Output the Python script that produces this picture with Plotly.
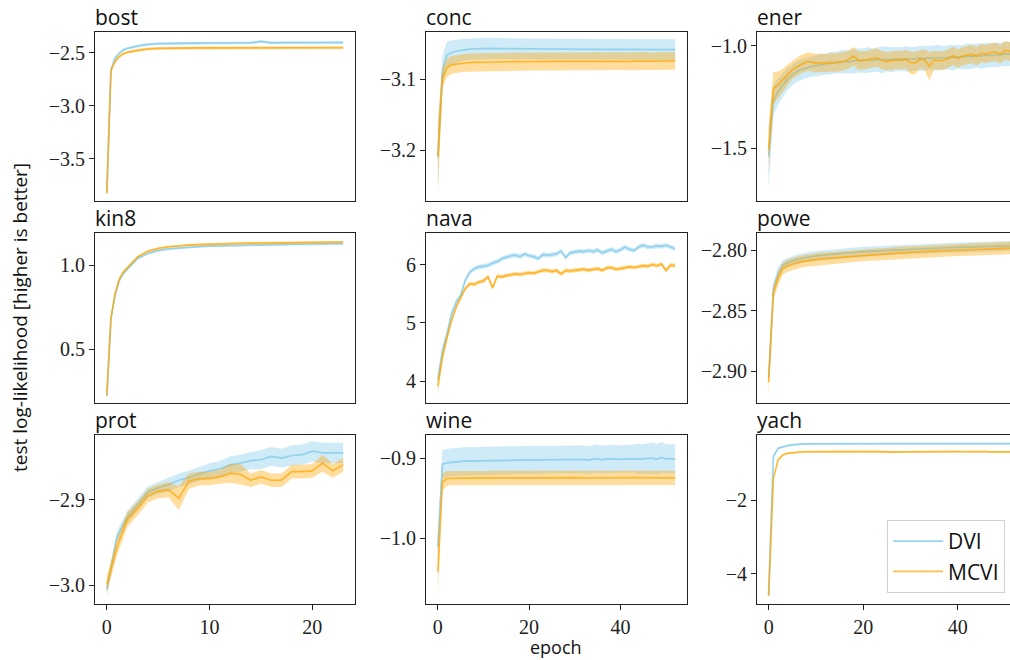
import plotly.graph_objects as go
from plotly.subplots import make_subplots

# ---------------- data ----------------
x_fine = [0, 0.4, 0.8, 1.2, 1.6, 2, 3, 4, 5, 6, 7, 8, 9, 10, 11, 12, 13, 14, 15, 16, 17, 18, 19, 20, 21, 22, 23]
x_prot = list(range(24))
x_long = list(range(53))

bost_dvi = [-3.82, -2.663, -2.553, -2.506, -2.475, -2.46, -2.437, -2.421, -2.415, -2.412, -2.411, -2.410, -2.410,
            -2.409, -2.409, -2.408, -2.408, -2.407, -2.394, -2.407, -2.406, -2.406, -2.406, -2.405, -2.405, -2.405, -2.405]
bost_dvi_sd = [0.02, 0.015, 0.013, 0.012, 0.012, 0.012, 0.012, 0.012, 0.012, 0.012, 0.012, 0.012, 0.012,
               0.012, 0.012, 0.012, 0.012, 0.012, 0.013, 0.012, 0.012, 0.012, 0.012, 0.012, 0.012, 0.012, 0.012]
bost_mcvi = [-3.83, -2.668, -2.585, -2.538, -2.51, -2.497, -2.478, -2.465, -2.46, -2.457, -2.456, -2.456, -2.455,
             -2.455, -2.455, -2.454, -2.455, -2.454, -2.454, -2.455, -2.454, -2.454, -2.453, -2.454, -2.453, -2.453, -2.453]
bost_mcvi_sd = [0.02, 0.015, 0.013, 0.012, 0.012, 0.012, 0.012, 0.012, 0.012, 0.012, 0.012, 0.012, 0.012,
                0.012, 0.012, 0.012, 0.012, 0.012, 0.012, 0.012, 0.012, 0.012, 0.012, 0.012, 0.012, 0.012, 0.012]

conc_dvi = [-3.2085, -3.089, -3.066, -3.0627, -3.061, -3.0598, -3.0588, -3.0580, -3.0575, -3.0572,
            -3.0570, -3.0570, -3.0571, -3.0572, -3.0573, -3.0574, -3.0575, -3.0576, -3.0577, -3.0577,
            -3.0578, -3.0578, -3.0579, -3.0579, -3.0580, -3.0580, -3.0580, -3.0581, -3.0581, -3.0581,
            -3.0582, -3.0582, -3.0582, -3.0582, -3.0583, -3.0583, -3.0583, -3.0583, -3.0584, -3.0584,
            -3.0584, -3.0584, -3.0584, -3.0585, -3.0585, -3.0585, -3.0585, -3.0585, -3.0585, -3.0586,
            -3.0586, -3.0586, -3.0586]
conc_dvi_sd = [0.045, 0.022, 0.019, 0.017, 0.016, 0.0155, 0.015, 0.015, 0.015, 0.015,
               0.0148, 0.0148, 0.0147, 0.0147, 0.0146, 0.0146, 0.0146, 0.0145, 0.0145, 0.0145,
               0.0145, 0.0145, 0.0145, 0.0145, 0.0145, 0.0145, 0.0145, 0.0145, 0.0145, 0.0145,
               0.0145, 0.0145, 0.0145, 0.0145, 0.0145, 0.0145, 0.0145, 0.0145, 0.0145, 0.0145,
               0.0145, 0.0145, 0.0145, 0.0145, 0.0145, 0.0145, 0.0145, 0.0145, 0.0145, 0.0145,
               0.0145, 0.0145, 0.0145]
conc_mcvi = [-3.2085, -3.0986, -3.0846, -3.0800, -3.0790, -3.0780, -3.0772, -3.0768, -3.0765, -3.0766,
             -3.0762, -3.0764, -3.0760, -3.0761, -3.0758, -3.0760, -3.0757, -3.0759, -3.0756, -3.0757,
             -3.0755, -3.0754, -3.0756, -3.0753, -3.0752, -3.0754, -3.0752, -3.0751, -3.0753, -3.0750,
             -3.0752, -3.0751, -3.0753, -3.0750, -3.0751, -3.0749, -3.0752, -3.0750, -3.0748, -3.0751,
             -3.0749, -3.0750, -3.0752, -3.0748, -3.0750, -3.0747, -3.0749, -3.0755, -3.0749, -3.0747,
             -3.0746, -3.0748, -3.0746]
conc_mcvi_sd = [0.05, 0.014, 0.013, 0.0125, 0.0125, 0.0125, 0.0125, 0.0125, 0.0125, 0.0125,
                0.0125, 0.0125, 0.0125, 0.0125, 0.0125, 0.0125, 0.0125, 0.0125, 0.0125, 0.0125,
                0.0125, 0.0125, 0.0125, 0.0125, 0.0125, 0.0125, 0.0125, 0.0125, 0.0125, 0.0125,
                0.0125, 0.0125, 0.0125, 0.0125, 0.0125, 0.0125, 0.0125, 0.0125, 0.0125, 0.0125,
                0.0125, 0.0125, 0.0125, 0.0125, 0.0125, 0.0125, 0.0125, 0.0125, 0.0125, 0.0125,
                0.0125, 0.0125, 0.0125]

ener_dvi = [-1.541, -1.264, -1.223, -1.190, -1.161, -1.142, -1.125, -1.114, -1.106, -1.101,
            -1.096, -1.092, -1.090, -1.085, -1.082, -1.080, -1.076, -1.078, -1.074, -1.070,
            -1.072, -1.068, -1.070, -1.066, -1.068, -1.065, -1.067, -1.064, -1.066, -1.062,
            -1.065, -1.063, -1.060, -1.062, -1.058, -1.060, -1.057, -1.060, -1.055, -1.057,
            -1.053, -1.055, -1.050, -1.052, -1.047, -1.049, -1.045, -1.046, -1.042, -1.044,
            -1.038, -1.040, -1.037]
ener_dvi_sd = [0.16, 0.075, 0.065, 0.06, 0.055, 0.05, 0.05, 0.05, 0.05, 0.05,
               0.05, 0.052, 0.05, 0.055, 0.052, 0.055, 0.058, 0.055, 0.06, 0.058,
               0.06, 0.062, 0.058, 0.06, 0.065, 0.06, 0.062, 0.058, 0.06, 0.062,
               0.06, 0.058, 0.062, 0.06, 0.058, 0.06, 0.062, 0.058, 0.06, 0.062,
               0.058, 0.06, 0.062, 0.06, 0.058, 0.062, 0.06, 0.058, 0.06, 0.058,
               0.06, 0.058, 0.06]
ener_mcvi = [-1.505, -1.207, -1.190, -1.166, -1.142, -1.117, -1.101, -1.088, -1.078, -1.078,
             -1.085, -1.082, -1.084, -1.080, -1.082, -1.078, -1.075, -1.065, -1.050, -1.072,
             -1.070, -1.068, -1.060, -1.058, -1.070, -1.075, -1.072, -1.068, -1.070, -1.065,
             -1.082, -1.083, -1.065, -1.068, -1.100, -1.068, -1.072, -1.070, -1.062, -1.048,
             -1.062, -1.050, -1.045, -1.040, -1.050, -1.035, -1.040, -1.032, -1.030, -1.040,
             -1.022, -1.028, -1.030]
ener_mcvi_sd = [0.11, 0.08, 0.065, 0.055, 0.05, 0.045, 0.045, 0.045, 0.045, 0.045,
                0.045, 0.045, 0.045, 0.045, 0.045, 0.045, 0.045, 0.045, 0.045, 0.045,
                0.045, 0.045, 0.045, 0.045, 0.045, 0.045, 0.045, 0.045, 0.045, 0.045,
                0.055, 0.055, 0.045, 0.05, 0.07, 0.045, 0.045, 0.045, 0.045, 0.045,
                0.045, 0.045, 0.045, 0.045, 0.045, 0.045, 0.045, 0.045, 0.045, 0.045,
                0.045, 0.045, 0.045]

kin8_dvi = [0.22, 0.68, 0.82, 0.905, 0.95, 0.975, 1.04, 1.07, 1.087, 1.097, 1.103, 1.108, 1.111,
            1.114, 1.116, 1.118, 1.12, 1.121, 1.122, 1.123, 1.124, 1.125, 1.126, 1.126, 1.127, 1.127, 1.128]
kin8_dvi_sd = [0.01, 0.008, 0.007, 0.006, 0.006, 0.006, 0.006, 0.006, 0.006, 0.006, 0.006, 0.006, 0.006,
               0.006, 0.006, 0.006, 0.006, 0.006, 0.006, 0.006, 0.006, 0.006, 0.006, 0.006, 0.006, 0.006, 0.006]
kin8_mcvi = [0.225, 0.685, 0.83, 0.915, 0.96, 0.985, 1.05, 1.083, 1.1, 1.11, 1.116, 1.12, 1.123,
             1.126, 1.128, 1.13, 1.131, 1.132, 1.133, 1.134, 1.135, 1.135, 1.136, 1.136, 1.137, 1.137, 1.138]
kin8_mcvi_sd = [0.01, 0.008, 0.007, 0.006, 0.006, 0.006, 0.006, 0.006, 0.006, 0.006, 0.006, 0.006, 0.006,
                0.006, 0.006, 0.006, 0.006, 0.006, 0.006, 0.006, 0.006, 0.006, 0.006, 0.006, 0.006, 0.006, 0.006]

nava_dvi = [4.03, 4.52, 4.81, 5.155, 5.355, 5.47, 5.73, 5.87, 5.93, 5.96,
            5.97, 5.985, 6.025, 6.05, 6.10, 6.13, 6.15, 6.16, 6.135, 6.18,
            6.15, 6.135, 6.10, 6.17, 6.16, 6.17, 6.18, 6.23, 6.12, 6.20,
            6.22, 6.23, 6.22, 6.24, 6.22, 6.25, 6.20, 6.23, 6.26, 6.22,
            6.25, 6.30, 6.26, 6.24, 6.30, 6.33, 6.30, 6.30, 6.32, 6.31,
            6.33, 6.30, 6.27]
nava_dvi_sd = [0.1, 0.08, 0.06, 0.05, 0.045, 0.04, 0.04, 0.04, 0.04, 0.04,
               0.04, 0.04, 0.04, 0.04, 0.04, 0.04, 0.04, 0.04, 0.04, 0.04,
               0.04, 0.04, 0.04, 0.04, 0.04, 0.04, 0.04, 0.04, 0.04, 0.04,
               0.04, 0.04, 0.04, 0.04, 0.04, 0.04, 0.04, 0.04, 0.04, 0.04,
               0.04, 0.04, 0.04, 0.04, 0.04, 0.04, 0.04, 0.04, 0.04, 0.04,
               0.04, 0.04, 0.04]
nava_mcvi = [3.92, 4.41, 4.75, 5.04, 5.27, 5.44, 5.59, 5.67, 5.66, 5.70,
             5.72, 5.79, 5.60, 5.80, 5.79, 5.81, 5.83, 5.84, 5.83, 5.85,
             5.86, 5.85, 5.88, 5.90, 5.90, 5.88, 5.90, 5.84, 5.90, 5.89,
             5.90, 5.91, 5.92, 5.90, 5.92, 5.93, 5.90, 5.94, 5.95, 5.92,
             5.93, 5.95, 5.96, 5.95, 5.97, 5.98, 5.97, 6.00, 5.98, 6.01,
             5.90, 5.99, 5.98]
nava_mcvi_sd = [0.12, 0.07, 0.05, 0.04, 0.035, 0.035, 0.035, 0.035, 0.035, 0.035,
                0.035, 0.035, 0.035, 0.035, 0.035, 0.035, 0.035, 0.035, 0.035, 0.035,
                0.035, 0.035, 0.035, 0.035, 0.035, 0.035, 0.035, 0.035, 0.035, 0.035,
                0.035, 0.035, 0.035, 0.035, 0.035, 0.035, 0.035, 0.035, 0.035, 0.035,
                0.035, 0.035, 0.035, 0.035, 0.035, 0.035, 0.035, 0.035, 0.035, 0.035,
                0.035, 0.035, 0.035]

powe_dvi = [-2.905, -2.8318, -2.8188, -2.8124, -2.8105, -2.8088, -2.8077, -2.8068, -2.806, -2.8054,
            -2.8049, -2.8045, -2.8041, -2.8038, -2.8035, -2.8033, -2.8029, -2.8025, -2.8021, -2.8017,
            -2.8014, -2.8012, -2.801, -2.8008, -2.8006, -2.8004, -2.8002, -2.8, -2.7998, -2.7996,
            -2.7994, -2.7993, -2.7991, -2.799, -2.7988, -2.7987, -2.7985, -2.7984, -2.7982, -2.798,
            -2.7978, -2.7977, -2.7976, -2.7975, -2.7974, -2.7973, -2.7972, -2.7971, -2.797, -2.7968,
            -2.7967, -2.7966, -2.7965]
powe_dvi_sd = [0.006, 0.005, 0.0045, 0.004, 0.004, 0.004, 0.004, 0.004, 0.004, 0.004,
               0.004, 0.004, 0.004, 0.004, 0.004, 0.004, 0.004, 0.004, 0.004, 0.004,
               0.004, 0.004, 0.004, 0.004, 0.004, 0.004, 0.004, 0.004, 0.004, 0.004,
               0.004, 0.004, 0.004, 0.004, 0.004, 0.004, 0.004, 0.004, 0.004, 0.004,
               0.004, 0.004, 0.004, 0.004, 0.004, 0.004, 0.004, 0.004, 0.004, 0.004,
               0.004, 0.004, 0.004]
powe_mcvi = [-2.909, -2.8354, -2.8235, -2.8152, -2.813, -2.8116, -2.8105, -2.8096, -2.8088, -2.8082,
             -2.8077, -2.8073, -2.807, -2.8066, -2.8063, -2.806, -2.8056, -2.8052, -2.8048, -2.8044,
             -2.8041, -2.8038, -2.8035, -2.8032, -2.803, -2.8028, -2.8026, -2.8024, -2.8023, -2.8021,
             -2.802, -2.8018, -2.8016, -2.8014, -2.8012, -2.801, -2.8008, -2.8006, -2.8004, -2.8002,
             -2.8, -2.7999, -2.7997, -2.7996, -2.7994, -2.7993, -2.7992, -2.799, -2.7989, -2.7987,
             -2.7986, -2.7985, -2.7984]
powe_mcvi_sd = [0.011, 0.006, 0.0055, 0.005, 0.005, 0.005, 0.005, 0.005, 0.005, 0.005,
                0.005, 0.005, 0.005, 0.005, 0.005, 0.005, 0.005, 0.005, 0.005, 0.005,
                0.005, 0.005, 0.005, 0.005, 0.005, 0.005, 0.005, 0.005, 0.005, 0.005,
                0.005, 0.005, 0.005, 0.005, 0.005, 0.005, 0.005, 0.005, 0.005, 0.005,
                0.005, 0.005, 0.005, 0.005, 0.005, 0.005, 0.005, 0.005, 0.005, 0.005,
                0.005, 0.005, 0.005]

prot_dvi = [-3.005, -2.943, -2.92, -2.906, -2.891, -2.886, -2.882, -2.877, -2.874, -2.8695, -2.866, -2.8636,
            -2.859, -2.857, -2.854, -2.853, -2.849, -2.851, -2.848, -2.847, -2.843, -2.845, -2.845, -2.845]
prot_dvi_sd = [0.008, 0.007, 0.007, 0.007, 0.007, 0.007, 0.008, 0.008, 0.008, 0.008, 0.009, 0.009,
               0.01, 0.01, 0.01, 0.011, 0.011, 0.011, 0.012, 0.012, 0.012, 0.012, 0.012, 0.012]
prot_mcvi = [-2.999, -2.955, -2.923, -2.91, -2.895, -2.89, -2.888, -2.898, -2.878, -2.875, -2.875, -2.873,
             -2.869, -2.87, -2.877, -2.873, -2.877, -2.877, -2.867, -2.867, -2.866, -2.857, -2.866, -2.859]
prot_mcvi_sd = [0.01, 0.01, 0.009, 0.008, 0.008, 0.008, 0.009, 0.014, 0.009, 0.008, 0.008, 0.008,
                0.011, 0.012, 0.008, 0.008, 0.008, 0.008, 0.008, 0.008, 0.008, 0.01, 0.008, 0.008]

wine_dvi = [-1.011, -0.9075, -0.9058, -0.9050, -0.9045, -0.9040, -0.9038, -0.9036, -0.9034, -0.9033,
            -0.9032, -0.9031, -0.9030, -0.9029, -0.9028, -0.9027, -0.9026, -0.9025, -0.9024, -0.9023,
            -0.9022, -0.9021, -0.9020, -0.9019, -0.9020, -0.9018, -0.9017, -0.9018, -0.9016, -0.9015,
            -0.9017, -0.9014, -0.9016, -0.9025, -0.9013, -0.9005, -0.9020, -0.9010, -0.9012, -0.9008,
            -0.9015, -0.9010, -0.9008, -0.9005, -0.9012, -0.9010, -0.9005, -0.9000, -0.9015, -0.8990,
            -0.9010, -0.9005, -0.9008]
wine_dvi_sd = [0.02, 0.0175, 0.0175, 0.0175, 0.0175, 0.0175, 0.0175, 0.0175, 0.0175, 0.0175,
               0.0175, 0.0175, 0.0175, 0.0175, 0.0175, 0.0175, 0.0175, 0.0175, 0.0175, 0.0175,
               0.0175, 0.0175, 0.0175, 0.0175, 0.0175, 0.0175, 0.0175, 0.0175, 0.0175, 0.0175,
               0.0175, 0.0175, 0.0175, 0.0175, 0.0175, 0.0175, 0.0175, 0.0175, 0.0175, 0.0175,
               0.0175, 0.0175, 0.0175, 0.0175, 0.019, 0.0185, 0.019, 0.02, 0.019, 0.0195,
               0.0185, 0.018, 0.018]
wine_mcvi = [-1.042, -0.9296, -0.9254, -0.9250, -0.9250, -0.9249, -0.9250, -0.9249, -0.9248, -0.9249,
             -0.9248, -0.9249, -0.9248, -0.9247, -0.9248, -0.9247, -0.9248, -0.9246, -0.9247, -0.9246,
             -0.9247, -0.9246, -0.9245, -0.9247, -0.9246, -0.9245, -0.9246, -0.9245, -0.9244, -0.9245,
             -0.9242, -0.9244, -0.9248, -0.9247, -0.9246, -0.9245, -0.9246, -0.9245, -0.9244, -0.9246,
             -0.9245, -0.9244, -0.9246, -0.9245, -0.9244, -0.9245, -0.9244, -0.9245, -0.9244, -0.9246,
             -0.9245, -0.9246, -0.9246]
wine_mcvi_sd = [0.03, 0.011, 0.0095, 0.009, 0.009, 0.009, 0.009, 0.009, 0.009, 0.009,
                0.009, 0.009, 0.009, 0.009, 0.009, 0.009, 0.009, 0.009, 0.009, 0.009,
                0.009, 0.009, 0.009, 0.009, 0.009, 0.009, 0.009, 0.009, 0.009, 0.009,
                0.009, 0.009, 0.009, 0.009, 0.009, 0.009, 0.009, 0.009, 0.009, 0.009,
                0.009, 0.009, 0.009, 0.009, 0.009, 0.009, 0.009, 0.009, 0.009, 0.009,
                0.009, 0.009, 0.009]

yach_dvi = [-4.58, -0.825, -0.597, -0.552, -0.525, -0.506, -0.488, -0.483, -0.479, -0.475,
            -0.473, -0.472, -0.472, -0.471, -0.471, -0.470, -0.470, -0.470, -0.470, -0.469,
            -0.469, -0.469, -0.469, -0.469, -0.469, -0.469, -0.469, -0.469, -0.469, -0.469,
            -0.469, -0.468, -0.468, -0.468, -0.468, -0.468, -0.468, -0.468, -0.468, -0.468,
            -0.468, -0.468, -0.468, -0.468, -0.468, -0.468, -0.468, -0.468, -0.468, -0.468,
            -0.468, -0.468, -0.468]
yach_dvi_sd = [0.04, 0.03, 0.025, 0.02, 0.02, 0.02, 0.02, 0.02, 0.02, 0.02,
               0.02, 0.02, 0.02, 0.02, 0.02, 0.02, 0.02, 0.02, 0.02, 0.02,
               0.02, 0.02, 0.02, 0.02, 0.02, 0.02, 0.02, 0.02, 0.02, 0.02,
               0.02, 0.02, 0.02, 0.02, 0.02, 0.02, 0.02, 0.02, 0.02, 0.02,
               0.02, 0.02, 0.02, 0.02, 0.02, 0.02, 0.02, 0.02, 0.02, 0.02,
               0.02, 0.02, 0.02]
yach_mcvi = [-4.60, -1.41, -0.914, -0.778, -0.733, -0.715, -0.700, -0.695, -0.690, -0.692,
             -0.688, -0.690, -0.687, -0.690, -0.686, -0.688, -0.685, -0.688, -0.690, -0.686,
             -0.683, -0.686, -0.688, -0.685, -0.690, -0.695, -0.705, -0.698, -0.692, -0.690,
             -0.688, -0.686, -0.690, -0.692, -0.688, -0.685, -0.683, -0.680, -0.678, -0.685,
             -0.688, -0.690, -0.686, -0.692, -0.695, -0.690, -0.688, -0.692, -0.695, -0.690,
             -0.688, -0.690, -0.692]
yach_mcvi_sd = [0.04, 0.03, 0.025, 0.025, 0.025, 0.025, 0.025, 0.025, 0.025, 0.025,
                0.025, 0.025, 0.025, 0.025, 0.025, 0.025, 0.025, 0.025, 0.025, 0.025,
                0.025, 0.025, 0.025, 0.025, 0.025, 0.025, 0.025, 0.025, 0.025, 0.025,
                0.025, 0.025, 0.025, 0.025, 0.025, 0.025, 0.025, 0.025, 0.025, 0.025,
                0.025, 0.025, 0.025, 0.025, 0.025, 0.025, 0.025, 0.025, 0.025, 0.025,
                0.025, 0.025, 0.025]

dataset_names = ["bost", "conc", "ener", "kin8", "nava", "powe", "prot", "wine", "yach"]
series_names = ["DVI", "MCVI"]
x_tick_step = [10, 20, 20]

# ---------------- figure ----------------
panels = [
    (x_fine, bost_dvi, bost_dvi_sd, bost_mcvi, bost_mcvi_sd),
    (x_long, conc_dvi, conc_dvi_sd, conc_mcvi, conc_mcvi_sd),
    (x_long, ener_dvi, ener_dvi_sd, ener_mcvi, ener_mcvi_sd),
    (x_fine, kin8_dvi, kin8_dvi_sd, kin8_mcvi, kin8_mcvi_sd),
    (x_long, nava_dvi, nava_dvi_sd, nava_mcvi, nava_mcvi_sd),
    (x_long, powe_dvi, powe_dvi_sd, powe_mcvi, powe_mcvi_sd),
    (x_prot, prot_dvi, prot_dvi_sd, prot_mcvi, prot_mcvi_sd),
    (x_long, wine_dvi, wine_dvi_sd, wine_mcvi, wine_mcvi_sd),
    (x_long, yach_dvi, yach_dvi_sd, yach_mcvi, yach_mcvi_sd),
]

# axis styling (ranges, tick steps, formats)
y_ranges = [(-3.90, -2.305), (-3.271, -3.034), (-1.757, -0.932),
            (0.178, 1.192), (3.63, 6.54), (-2.926, -2.786),
            (-3.022, -2.824), (-1.0825, -0.871), (-4.82, -0.236)]
y_dticks = [0.5, 0.1, 0.5, 0.5, 1, 0.05, 0.1, 0.1, 2]
y_formats = [".1f", ".1f", ".1f", ".1f", "d", ".2f", ".1f", ".1f", "d"]
x_ranges = [(-1.15, 24.15), (-2.6, 54.6), (-2.46, 51.05)]

W, H = 1010, 660
col_px = [(95, 355), (426, 687), (757, 1010)]
row_px = [(32, 201), (233, 403), (435, 604)]

line_cols = ["rgba(135,206,235,0.85)", "rgba(255,165,0,0.72)"]
fill_cols = ["rgba(135,206,235,0.4)", "rgba(255,165,0,0.38)"]

fig = make_subplots(rows=3, cols=3)

for i, (xs, m1, s1, m2, s2) in enumerate(panels):
    r, c = i // 3 + 1, i % 3 + 1
    for k, (m, s) in enumerate([(m1, s1), (m2, s2)]):
        xx = xs[:len(m)]
        hi = [a + b for a, b in zip(m, s)]
        lo = [a - b for a, b in zip(m, s)]
        fig.add_trace(go.Scatter(x=xx + xx[::-1], y=hi + lo[::-1], fill="toself",
                                 fillcolor=fill_cols[k], line=dict(width=0),
                                 mode="lines", hoverinfo="skip", showlegend=False),
                      row=r, col=c)
        fig.add_trace(go.Scatter(x=xx, y=m, mode="lines", name=series_names[k],
                                 line=dict(color=line_cols[k], width=1.7),
                                 showlegend=(i == 8)),
                      row=r, col=c)

serif = "Liberation Serif"
tick_font = dict(family=serif, size=20, color="#222")
sans = "Open Sans"

for i in range(9):
    r, c = i // 3, i % 3
    ax = "" if i == 0 else str(i + 1)
    x0, x1 = col_px[c]
    y0, y1 = row_px[r]
    fig.layout["xaxis" + ax].update(
        domain=[x0 / W, x1 / W], range=list(x_ranges[c]), dtick=x_tick_step[c], tick0=0,
        showline=True, mirror=True, linecolor="#222", linewidth=1,
        ticks="outside" if r == 2 else "", ticklen=5, tickwidth=1, tickcolor="#222",
        showticklabels=(r == 2), showgrid=False, zeroline=False)
    fig.layout["yaxis" + ax].update(
        domain=[1 - y1 / H, 1 - y0 / H], range=list(y_ranges[i]), dtick=y_dticks[i], tick0=0,
        tickformat=y_formats[i],
        showline=True, mirror=True, linecolor="#222", linewidth=1,
        ticks="outside", ticklen=5, tickwidth=1, tickcolor="#222",
        showgrid=False, zeroline=False)
    fig.add_annotation(text=dataset_names[i], xref="paper", yref="paper",
                       x=x0 / W, y=1 - y0 / H, xanchor="left", yanchor="bottom",
                       showarrow=False, font=dict(family=sans, size=21, color="#111"),
                       xshift=-2, yshift=-1)

fig.update_xaxes(tickfont=tick_font)
fig.update_yaxes(tickfont=tick_font)

fig.add_annotation(text="test log-likelihood [higher is better]", xref="paper", yref="paper",
                   x=20 / W, y=1 - 318 / H, xanchor="center", yanchor="middle",
                   textangle=-90, showarrow=False,
                   font=dict(family=sans, size=19, color="#111"))
fig.add_annotation(text="epoch", xref="paper", yref="paper",
                   x=556 / W, y=1 - 647 / H, xanchor="center", yanchor="middle",
                   showarrow=False, font=dict(family=sans, size=18, color="#111"))

fig.update_layout(
    width=W, height=H, autosize=False,
    margin=dict(l=0, r=0, t=0, b=0),
    plot_bgcolor="white", paper_bgcolor="white",
    font=dict(family=sans),
    legend=dict(x=1005 / W, y=1 - 593 / H, xanchor="right", yanchor="bottom",
                bordercolor="#d0d0d0", borderwidth=1, bgcolor="rgba(255,255,255,0.85)",
                font=dict(family=sans, size=21, color="#111"), itemwidth=50,
                tracegroupgap=0),
)

fig.write_html("out.html")
